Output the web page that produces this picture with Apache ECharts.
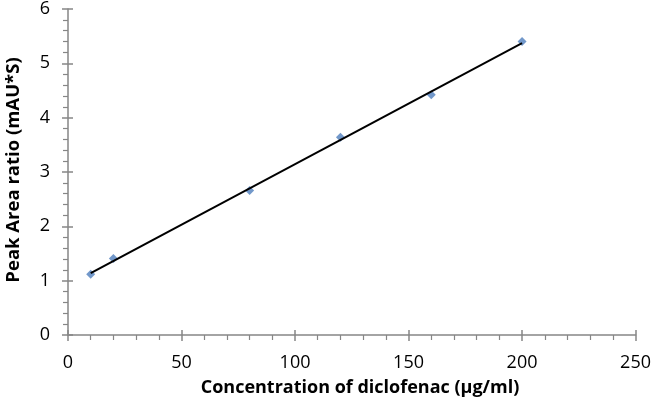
<!DOCTYPE html>
<html><head><meta charset="utf-8">
<script src="https://cdn.jsdelivr.net/npm/echarts@6/dist/echarts.min.js"></script>
<style>html,body{margin:0;padding:0;background:#fff}#c{width:654px;height:406px}</style>
</head><body><div id="c"></div>
<script>
var concentrations = [10, 20, 80, 120, 160, 200];
var peakAreaRatios = [1.12, 1.41, 2.66, 3.64, 4.42, 5.40];
var trendX = [10, 200];
var trendY = [1.14, 5.37];
var xTitle = 'Concentration of diclofenac (µg/ml)';
var yTitle = 'Peak Area ratio (mAU*S)';

var chart = echarts.init(document.getElementById('c'), null, {renderer: 'canvas'});
var axisColor = '#868686';
var font = 'Open Sans';
function baseAxis(min, max, interval, margin) {
  return {
    type: 'value', min: min, max: max, interval: interval,
    axisLine: {show: true, onZero: false, lineStyle: {color: axisColor, width: 1.5}},
    axisTick: {show: true, length: 6, lineStyle: {color: axisColor, width: 1.5}},
    minorTick: {show: true, splitNumber: 5, length: 5, lineStyle: {color: axisColor, width: 1.2}},
    splitLine: {show: false},
    axisLabel: {color: '#000', fontFamily: font, fontSize: 18, margin: margin}
  };
}
function innerAxis(min, max, interval, pos) {
  return {
    type: 'value', min: min, max: max, interval: interval, position: pos,
    axisLine: {show: false, onZero: false},
    axisTick: {show: true, inside: true, length: 5, lineStyle: {color: axisColor, width: 1.5}},
    minorTick: {show: false}, splitLine: {show: false}, axisLabel: {show: false}
  };
}
var xa = baseAxis(0, 250, 50, 19);
var ya = baseAxis(0, 6, 1, 18);
chart.setOption({
  animation: false,
  grid: {left: 68, right: 17, top: 7, bottom: 71},
  xAxis: [xa, innerAxis(0, 250, 50, 'bottom')],
  yAxis: [ya, innerAxis(0, 6, 1, 'left')],
  graphic: [
    {type: 'text', x: 360, y: 388, style: {text: xTitle, fontFamily: font, fontSize: 18, fontWeight: 'bold', fill: '#000', align: 'center', verticalAlign: 'middle'}},
    {type: 'text', x: 14, y: 170, rotation: Math.PI / 2, style: {text: yTitle, fontFamily: font, fontSize: 18.5, fontWeight: 'bold', fill: '#000', align: 'center', verticalAlign: 'middle'}}
  ],
  series: [
    {type: 'line', data: trendX.map(function (x, i) { return [x, trendY[i]]; }),
     showSymbol: false, symbol: 'none', lineStyle: {color: '#000', width: 2}, z: 2},
    {type: 'scatter', data: concentrations.map(function (x, i) { return [x, peakAreaRatios[i]]; }),
     symbol: 'diamond', symbolSize: 9, itemStyle: {color: '#4F7EBD'}, z: 1}
  ]
});
</script></body></html>
